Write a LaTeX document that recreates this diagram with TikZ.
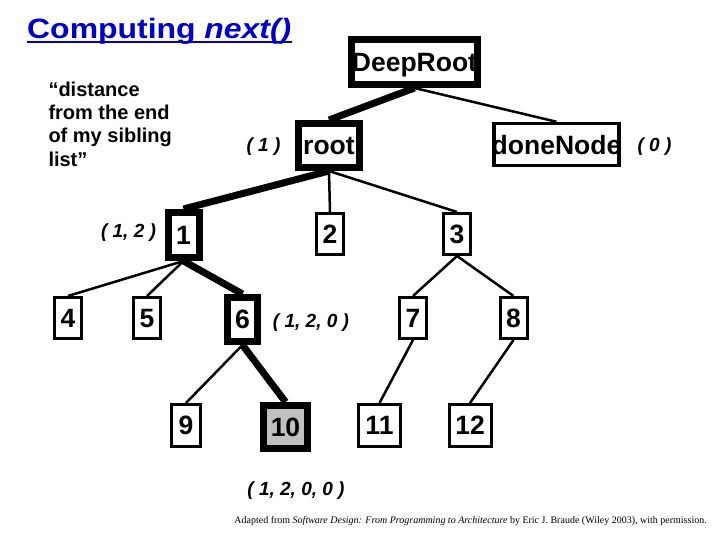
\documentclass[tikz,border=0pt]{standalone}
\usepackage{fontspec}
\setmainfont{Liberation Sans}
\newfontfamily\creditfont{Liberation Serif}
\usepackage{graphicx}
\definecolor{titleblue}{RGB}{0,0,204}
\definecolor{hilite}{RGB}{192,192,192}
\begin{document}
\begin{tikzpicture}[x=1pt,y=-1pt,
  tbox/.style={draw, line width=3pt, inner sep=0pt, text depth=0pt,
    minimum width=27pt, minimum height=41pt,
    font=\fontsize{26.5}{26.5}\selectfont\bfseries},
  kbox/.style={tbox, line width=7pt, minimum width=31pt, minimum height=45pt},
  thinedge/.style={line width=2.5pt},
  thickedge/.style={line width=7pt},
  note/.style={inner sep=0pt, font=\fontsize{19}{19}\selectfont\bfseries\itshape},
]
\fill[white] (0,0) rectangle (720,540);
\useasboundingbox (0,0) rectangle (720,540);

% title
\node[anchor=base west, inner sep=0pt, text=titleblue,
  font=\fontsize{28}{28}\selectfont\bfseries] (title) at (27,38.3)
  {\scalebox{1.14}[1]{Computing \textit{next()}}};
\draw[titleblue, line width=2.5pt] ([yshift=-3.7pt]title.base west) -- ([yshift=-3.7pt]title.base east);

% explanation
\node[anchor=north west, inner sep=0pt, align=left,
  font=\fontsize{20}{23.3}\selectfont\bfseries] (quote) at (48.3,81.5)
  {“distance\\from the end\\of my sibling\\list”};

% tree nodes
\node[kbox, minimum width=126pt, minimum height=45pt] (deeproot) at (414.5,62) {\makebox[0pt]{DeepRoot}};
\node[kbox, minimum width=61pt, minimum height=44pt] (root) at (329,145.5) {root};
\node[tbox, line width=3.5pt, minimum width=125pt, minimum height=42pt] (done) at (556.5,144.5) {\makebox[0pt]{doneNode}};

\node[kbox] (n1) at (183.5,235) {1};
\node[tbox] (n2) at (330,234) {2};
\node[tbox] (n3) at (457,234) {3};
\node[tbox] (n4) at (68,318) {4};
\node[tbox] (n5) at (147,318) {5};
\node[kbox, minimum width=30pt, minimum height=44pt] (n6) at (242.5,319.5) {6};
\node[tbox] (n7) at (413,318) {7};
\node[tbox] (n8) at (513.5,318) {8};
\node[tbox, minimum width=29pt, minimum height=42pt] (n9) at (186,425.5) {9};
\node[kbox, fill=hilite, minimum width=44pt, minimum height=43pt] (n10) at (285.5,427) {10};
\node[tbox, minimum width=42pt, minimum height=42pt] (n11) at (379.5,425.5) {11};
\node[tbox, minimum width=42pt, minimum height=42pt] (n12) at (470,425.5) {12};

% edges
\draw[thickedge] (deeproot.south) -- (root.north);
\draw[thinedge] (deeproot.south) -- (done.north);
\draw[thickedge] (root.south) -- (n1.north);
\draw[thinedge] (root.south) -- (n2.north);
\draw[thinedge] (root.south) -- (n3.north);
\draw[thinedge] (n1.south) -- (n4.north);
\draw[thinedge] (n1.south) -- (n5.north);
\draw[thickedge] (n1.south) -- (n6.north);
\draw[thinedge] (n3.south) -- (n7.north);
\draw[thinedge] (n3.south) -- (n8.north);
\draw[thinedge] (n6.south) -- (n9.north);
\draw[thickedge] (n6.south) -- (n10.north);
\draw[thinedge] (n7.south) -- (n11.north);
\draw[thinedge] (n8.south) -- (n12.north);

% annotations
\node[note] (a1) at (263.5,147) {( 1 )};
\node[note] (a0) at (654.5,147) {( 0 )};
\node[note] (a12) at (128.5,233) {( 1, 2 )};
\node[note] (a120) at (311,323) {( 1, 2, 0 )};
\node[note] (a1200) at (296,491) {( 1, 2, 0, 0 )};

% credit
\node[anchor=base east, inner sep=0pt, font=\creditfont\fontsize{10}{10}\selectfont] (credit) at (707,523)
  {Adapted from \textit{Software Design: From Programming to Architecture} by Eric J. Braude (Wiley 2003), with permission.};
\end{tikzpicture}
\end{document}
